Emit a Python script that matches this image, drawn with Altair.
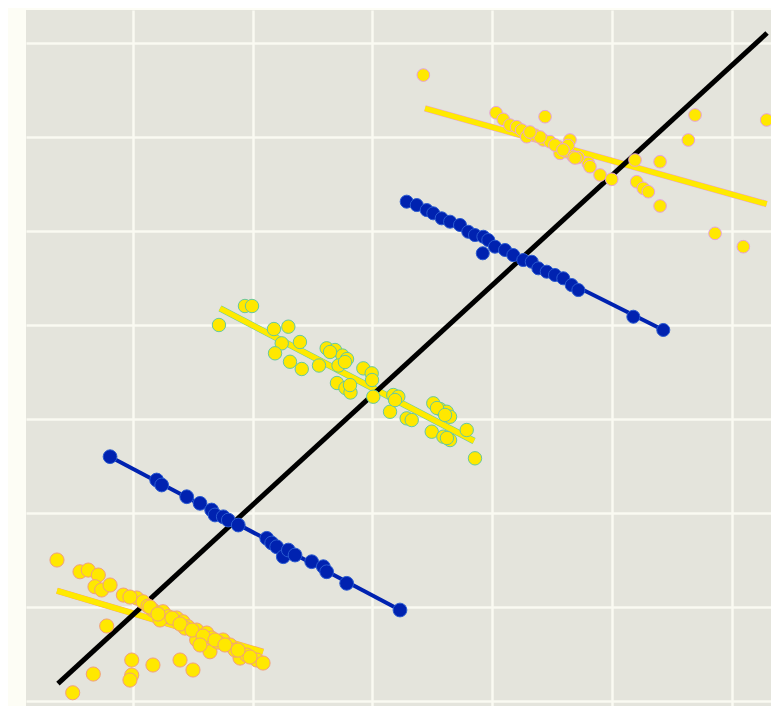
import altair as alt
import pandas as pd

# ---- group A: lower-left yellow cluster (salmon edge)
a_x = [0.368, 0.560, 0.629, 0.713, 0.685, 0.741, 0.811, 0.922, 1.033, 1.086, 0.783, 1.169, 1.253,
       1.295, 1.228, 1.367, 1.420, 1.462, 1.534, 1.534, 1.618, 1.645, 1.659, 1.754, 1.812, 1.896,
       1.952, 2.035, 2.088, 0.992, 1.169, 1.395, 1.503, 0.671, 0.992, 0.977, 0.499, 1.437, 1.712,
       1.854, 1.979, 1.128, 0.977, 1.144, 1.211, 1.328, 1.395, 1.495, 1.587, 1.687, 1.770, 1.879,
       1.562]
a_y = [1.497, 1.372, 1.390, 1.337, 1.213, 1.178, 1.231, 1.124, 1.093, 1.053, 0.795, 0.965, 0.947,
       0.894, 0.859, 0.880, 0.840, 0.787, 0.752, 0.646, 0.720, 0.521, 0.667, 0.646, 0.593, 0.454,
       0.486, 0.433, 0.401, 0.433, 0.380, 0.433, 0.327, 0.284, 0.273, 0.220, 0.085, 0.773, 0.624,
       0.539, 0.465, 1.007, 1.103, 0.997, 0.922, 0.880, 0.816, 0.752, 0.688, 0.646, 0.593, 0.539,
       0.593]
a_fit_x = [0.368, 2.088]
a_fit_y = [1.170, 0.519]

# ---- group B: lower blue series
b_x = [0.811, 1.200, 1.242, 1.451, 1.562, 1.659, 1.687, 1.756, 1.798, 1.881, 2.119, 2.160, 2.202,
       2.257, 2.299, 2.355, 2.494, 2.591, 2.619, 2.786, 3.231]
b_y = [2.596, 2.348, 2.295, 2.170, 2.100, 2.029, 1.976, 1.957, 1.922, 1.869, 1.728, 1.678, 1.638,
       1.532, 1.603, 1.550, 1.479, 1.426, 1.372, 1.249, 0.965]
b_fit_x = [0.811, 3.231]
b_fit_y = [2.596, 0.965]

# ---- group C: middle yellow cluster (green edge)
c_x = [1.720, 1.937, 1.996, 2.179, 2.299, 2.244, 2.396, 2.188, 2.313, 2.411, 2.555, 2.619, 2.689,
       2.751, 2.789, 2.718, 2.705, 2.776, 2.818, 2.925, 2.995, 2.998, 3.008, 3.148, 3.175, 3.217,
       3.287, 3.329, 3.509, 3.565, 3.621, 3.649, 3.496, 3.593, 3.649, 3.788, 3.857, 2.647, 2.772,
       2.814, 3.540, 3.607, 3.623, 3.190]
c_y = [3.997, 4.199, 4.199, 3.954, 3.979, 3.802, 3.816, 3.696, 3.606, 3.529, 3.566, 3.749, 3.731,
       3.672, 3.635, 3.566, 3.380, 3.327, 3.279, 3.536, 3.483, 3.412, 3.234, 3.074, 3.252, 3.234,
       3.004, 2.986, 3.164, 3.103, 3.074, 3.021, 2.862, 2.809, 2.773, 2.880, 2.579, 3.710, 3.603,
       3.358, 3.114, 3.040, 2.795, 3.199]
c_fit_x = [1.729, 3.849]
c_fit_y = [4.174, 2.763]

# ---- group D: upper blue series
d_x = [3.287, 3.371, 3.454, 3.509, 3.579, 3.649, 3.732, 3.801, 3.857, 3.927, 3.968, 3.922, 4.024,
       4.108, 4.177, 4.260, 4.331, 4.386, 4.456, 4.525, 4.594, 4.664, 4.720, 5.179, 5.429]
d_y = [5.309, 5.273, 5.220, 5.185, 5.132, 5.096, 5.061, 4.989, 4.954, 4.936, 4.901, 4.760, 4.830,
       4.795, 4.741, 4.688, 4.670, 4.600, 4.564, 4.529, 4.494, 4.422, 4.369, 4.085, 3.944]
d_fit_x = [3.287, 5.429]
d_fit_y = [5.309, 3.944]

# ---- group E: upper-right yellow cluster (pink edge)
e_x = [3.426, 4.033, 4.093, 4.149, 4.205, 4.247, 4.289, 4.358, 4.442, 4.427, 4.483, 4.553, 4.567,
       4.650, 4.623, 4.678, 4.803, 4.817, 4.901, 4.998, 5.193, 5.402, 5.207, 5.262, 5.304, 5.402,
       5.638, 5.694, 6.292, 5.861, 6.097, 4.717, 4.634, 4.400, 4.525, 4.592, 4.692, 4.316]
e_y = [6.656, 6.255, 6.185, 6.124, 6.106, 6.071, 6.000, 6.018, 6.213, 5.965, 5.947, 5.894, 5.823,
       5.965, 5.840, 5.787, 5.717, 5.681, 5.593, 5.547, 5.752, 5.734, 5.521, 5.451, 5.415, 5.263,
       5.965, 6.231, 6.178, 4.972, 4.830, 5.779, 5.907, 5.997, 5.912, 5.859, 5.774, 6.050]
e_fit_x = [3.440, 6.292]
e_fit_y = [6.302, 5.284]

# ---- overall trend
all_fit_x = [0.376, 6.295]
all_fit_y = [0.183, 7.103]

groups = ["A", "B", "C", "D", "E"]
fill_colors = ["#ffe800", "#0022b0", "#ffe800", "#0022b0", "#ffe800"]
edge_colors = ["#f2a07c", "#2a5ad0", "#66c8a0", "#2a5ad0", "#e6a0dc"]
sizes = [200, 160, 200, 160, 200]

pts = []
for g, xs_, ys_ in [("A", a_x, a_y), ("B", b_x, b_y), ("C", c_x, c_y), ("D", d_x, d_y), ("E", e_x, e_y)]:
    for x, y in zip(xs_, ys_):
        pts.append({"g": g, "x": x, "y": y})
pts = pd.DataFrame(pts)

fits = []
for g, xs_, ys_ in [("A", a_fit_x, a_fit_y), ("B", b_fit_x, b_fit_y), ("C", c_fit_x, c_fit_y),
                    ("D", d_fit_x, d_fit_y), ("E", e_fit_x, e_fit_y), ("all", all_fit_x, all_fit_y)]:
    for i, (x, y) in enumerate(zip(xs_, ys_)):
        fits.append({"g": g, "x": x, "y": y, "o": i})
fits = pd.DataFrame(fits)

xs = alt.Scale(domain=[0.1093, 6.328], nice=False, zero=False)
ys = alt.Scale(domain=[-0.056, 7.348], nice=False, zero=False)

xax = alt.Axis(values=[1, 2, 3, 4, 5, 6], labels=False, ticks=False, domain=False, title=None,
               grid=True, gridColor="#fafaf2", gridWidth=2.5, gridOpacity=1)
yax = alt.Axis(values=[0, 1, 2, 3, 4, 5, 6, 7], labels=False, ticks=False, domain=False, title=None,
               grid=True, gridColor="#fafaf2", gridWidth=2.5, gridOpacity=1)

X = alt.X("x:Q", scale=xs, axis=xax)
Y = alt.Y("y:Q", scale=ys, axis=yax)

yellow_fits = fits[fits.g.isin(["A", "C", "E"])]
blue_fits = fits[fits.g.isin(["B", "D"])]
black_fit = fits[fits.g == "all"]

yellow_edge = alt.Chart(yellow_fits).mark_line(strokeWidth=6.5, strokeCap="butt").encode(
    x=X, y=Y, detail="g:N", order="o:Q",
    color=alt.Color("g:N", scale=alt.Scale(domain=groups, range=edge_colors), legend=None))
yellow_line = alt.Chart(yellow_fits).mark_line(strokeWidth=5.5, color="#ffea00", strokeCap="butt").encode(
    x=X, y=Y, detail="g:N", order="o:Q")
black_line = alt.Chart(black_fit).mark_line(strokeWidth=5, color="#000000").encode(
    x=X, y=Y, order="o:Q")
blue_line = alt.Chart(blue_fits).mark_line(strokeWidth=4, color="#0022b0").encode(
    x=X, y=Y, detail="g:N", order="o:Q")

points = alt.Chart(pts).mark_circle(opacity=1, strokeWidth=1).encode(
    x=X, y=Y,
    fill=alt.Fill("g:N", scale=alt.Scale(domain=groups, range=fill_colors), legend=None),
    stroke=alt.Stroke("g:N", scale=alt.Scale(domain=groups, range=edge_colors), legend=None),
    size=alt.Size("g:N", scale=alt.Scale(domain=groups, range=sizes), legend=None),
)

chart = alt.layer(yellow_edge, yellow_line, black_line, blue_line, points).resolve_scale(
    color="independent"
).properties(
    width=745, height=696,
    autosize=alt.AutoSizeParams(type="none"),
    padding={"left": 18, "top": 2, "right": 0, "bottom": 0},
    background="#fdfdf5",
).configure_view(fill="#e4e4dc", stroke=None)

chart.save("out.html", embed_options={"renderer": "svg", "actions": False})
